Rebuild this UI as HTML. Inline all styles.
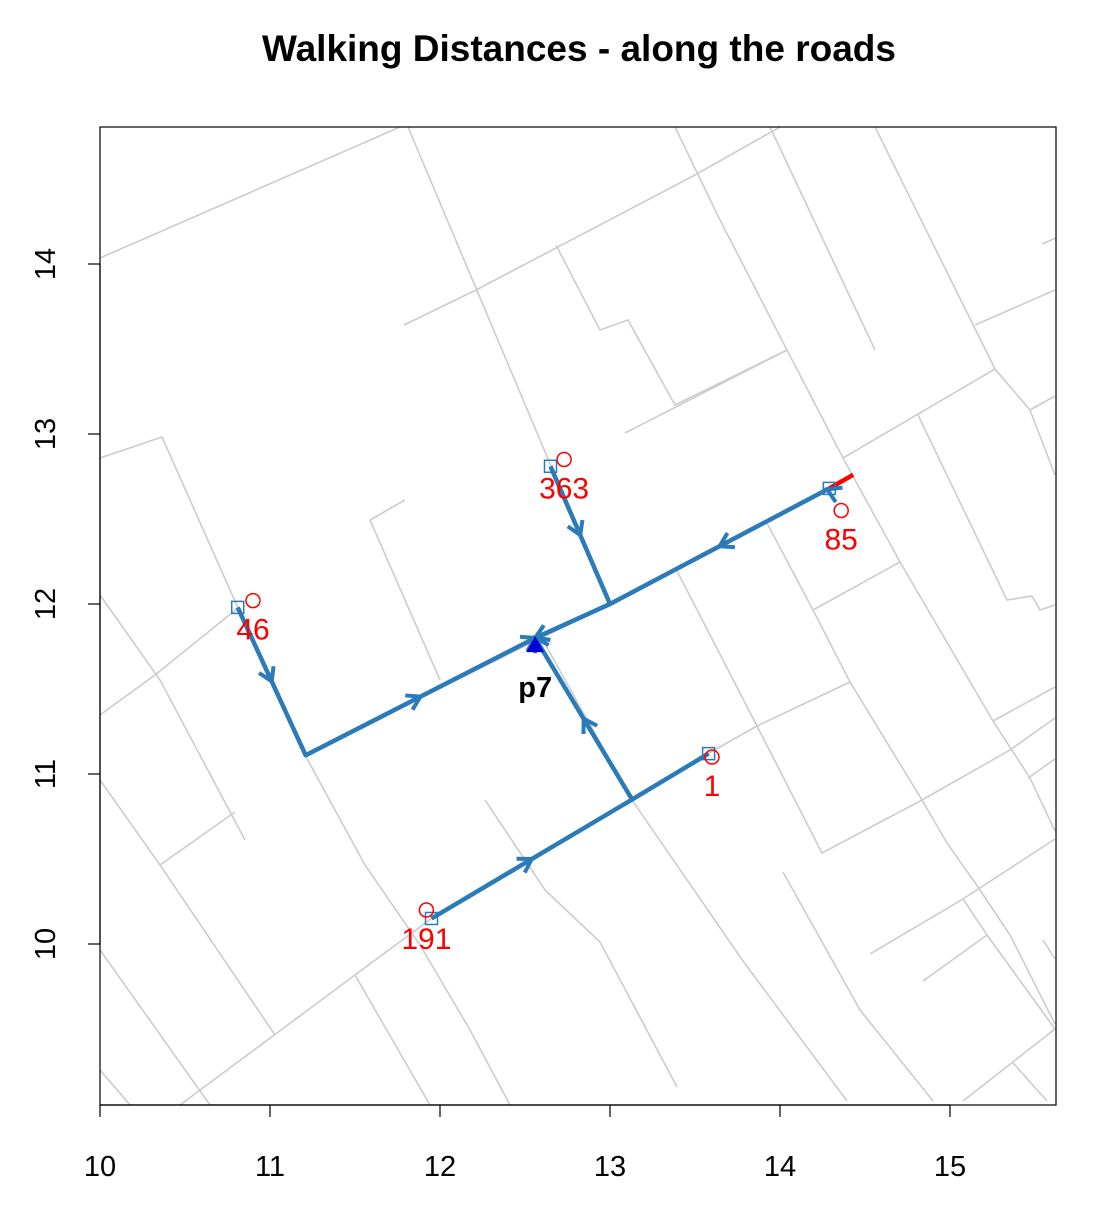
<!DOCTYPE html>
<html><head><meta charset="utf-8"><style>
body{margin:0;background:#fff;}
svg{display:block;font-family:"Liberation Sans",Arial,sans-serif;}
</style></head><body>
<svg id="c" width="1108" height="1210">
<text x="579" y="61" text-anchor="middle" font-size="37" font-weight="bold">Walking Distances - along the roads</text>
<g id="roads"></g>
<g id="paths"></g>
<g id="pts"></g>
<rect x="100" y="127" width="956" height="978" fill="none" stroke="#000" stroke-width="1.2"/>
<g id="axes"></g>
</svg>
<script>
const xTicks=[10,11,12,13,14,15];
const yTicks=[10,11,12,13,14];
const roadsPx=[
[[100,258],[400,127]],
[[408,127],[551,466],[610,604]],
[[100,458],[162,437],[238,608],[305,755],[365,865],[420,945],[470,1030],[510,1105]],
[[100,595],[160,680],[245,840]],
[[100,715],[155,675],[238,608]],
[[305,755],[610,604],[830,488]],
[[100,780],[160,865],[275,1035]],
[[160,865],[235,812]],
[[100,950],[210,1105]],
[[100,1070],[130,1105]],
[[180,1105],[355,975],[432,918],[632,800],[709,753],[757,726],[850,682]],
[[355,975],[430,1105]],
[[485,800],[545,890],[600,942],[677,1087]],
[[540,635],[632,800],[743,961],[847,1101]],
[[370,520],[405,500]],[[370,520],[440,680]],
[[404,325],[476,290],[695,175],[780,127]],
[[556,245],[600,330],[628,320],[675,405],[787,350]],
[[625,433],[787,350]],
[[675,127],[720,220],[787,350],[843,458],[900,562],[993,721],[1030,778],[1055,831]],
[[770,127],[875,350]],
[[875,127],[995,369],[1030,410],[1055,475]],
[[843,458],[995,369]],[[1030,410],[1055,396]],
[[975,325],[1055,290]],[[1042,244],[1056,238]],
[[918,415],[1007,600],[1032,596],[1040,610],[1055,605]],
[[767,523],[813,610],[850,682],[922,800],[947,843],[978,887],[1010,935],[1055,1024]],
[[813,610],[900,562]],
[[677,571],[757,726],[822,853],[922,800],[1010,750],[1055,718]],
[[993,721],[1055,687]],[[1028,778],[1055,759]],
[[870,954],[963,899],[1055,839]],
[[963,899],[987,935],[1055,1029]],
[[923,981],[987,935]],[[1043,940],[1055,959]],
[[783,872],[860,1010],[933,1101]],
[[963,1101],[1055,1029]],[[1013,1063],[1047,1101]]
];
const labels=["46","363","85","191","1"];
const sqX=[10.81,12.65,14.29,11.95,13.58];
const sqY=[11.98,12.81,12.68,10.15,11.12];
const cX=[10.90,12.73,14.36,11.92,13.60];
const cY=[12.02,12.85,12.55,10.20,11.10];
const p7=[12.56,11.77];
const routes=[
[[10.81,11.98],[11.21,11.11],[12.56,11.80]],
[[12.65,12.81],[13.0,12.0],[12.56,11.80]],
[[14.29,12.68],[13.0,12.0],[12.56,11.80]],
[[11.95,10.15],[13.13,10.85],[12.56,11.80]],
[[13.58,11.12],[13.13,10.85]]
];
// which segments carry a mid arrow (1) and end arrow flags
const midArrows=[[1,1],[1,0],[1,0],[1,1],[0]];
const endArrows=[1,1,1,1,0];
const X=v=>100+(v-10)*170, Y=v=>944-(v-10)*170;
const ns="http://www.w3.org/2000/svg";
function mk(t,a,p){const e=document.createElementNS(ns,t);for(const k in a)e.setAttribute(k,a[k]);p.appendChild(e);return e;}
const R=document.getElementById('roads');
roadsPx.forEach(r=>{const d=r.map(p=>[X(10+(p[0]-100)/170),Y(10+(944-p[1])/170)]).join(' ');
 const e=mk('polyline',{points:d,fill:'none',stroke:'#cccccc','stroke-width':1.6},R);
 
 });
const P=document.getElementById('paths');
const st=mk('line',{x1:X(14.29),y1:Y(12.68),x2:X(14.43),y2:Y(12.76),stroke:'#ff0000','stroke-width':4.5},P);


function arrow(x,y,a,name){
 const h=mk('path',{d:'M-13,-8 L0,0 L-13,8',fill:'none',stroke:'#2b7bb9','stroke-width':4,'stroke-linejoin':'miter',transform:`translate(${x},${y}) rotate(${a})`},P);
 
 
}
routes.forEach((r,ri)=>{
 const d=r.map(p=>[X(p[0]),Y(p[1])]).join(' ');
 const e=mk('polyline',{points:d,fill:'none',stroke:'#2b7bb9','stroke-width':4.5,'stroke-linejoin':'round'},P);
 
 
 for(let i=0;i<r.length-1;i++){
  const x1=X(r[i][0]),y1=Y(r[i][1]),x2=X(r[i+1][0]),y2=Y(r[i+1][1]);
  const a=Math.atan2(y2-y1,x2-x1)*180/Math.PI;
  if(midArrows[ri][i]) arrow((x1+x2)/2,(y1+y2)/2,a,'route-arrow');
  if(i==r.length-2&&endArrows[ri]) arrow(x2,y2,a,'route-arrow-end');
 }
});
arrow(X(14.29)-2,Y(12.68)+1,205,'route-arrow-start');
const G=document.getElementById('pts');
labels.forEach((l,i)=>{
 const s=mk('rect',{x:X(sqX[i])-6,y:Y(sqY[i])-6,width:12,height:12,fill:'none',stroke:'#2b7bb9','stroke-width':1.5},G);
 
 
 const c=mk('circle',{cx:X(cX[i]),cy:Y(cY[i]),r:7,fill:'none',stroke:'#ff0000','stroke-width':1.5},G);
 
 
 const t=mk('text',{x:X(cX[i]),y:Y(cY[i])+39,'text-anchor':'middle','font-size':30,fill:'#ff0000'},G);
 t.textContent=l;
 
 
});
const tri=mk('path',{d:`M${X(p7[0])-9},${Y(p7[1])+9} L${X(p7[0])+9},${Y(p7[1])+9} L${X(p7[0])},${Y(p7[1])-7} Z`,fill:'#0000dd'},G);


const pt=mk('text',{x:X(p7[0]),y:Y(p7[1])+54,'text-anchor':'middle','font-size':29,'font-weight':'bold'},G);
pt.textContent='p7';


const A=document.getElementById('axes');
const xl=mk('line',{x1:X(10),y1:1105,x2:X(15),y2:1105,stroke:'#000','stroke-width':1.2},A);


xTicks.forEach(v=>{
 const t=mk('line',{x1:X(v),y1:1105,x2:X(v),y2:1117,stroke:'#000','stroke-width':1.2},A);
 
 
 const l=mk('text',{x:X(v),y:1176,'text-anchor':'middle','font-size':29},A);
 l.textContent=v;
 
 
});
const yl=mk('line',{x1:100,y1:Y(10),x2:100,y2:Y(14),stroke:'#000','stroke-width':1.2},A);


yTicks.forEach(v=>{
 const t=mk('line',{x1:88,y1:Y(v),x2:100,y2:Y(v),stroke:'#000','stroke-width':1.2},A);
 
 
 const l=mk('text',{x:55,y:Y(v),'text-anchor':'middle','font-size':29,transform:`rotate(-90 55 ${Y(v)})`},A);
 l.textContent=v;
 
 
});
</script>
</body></html>
